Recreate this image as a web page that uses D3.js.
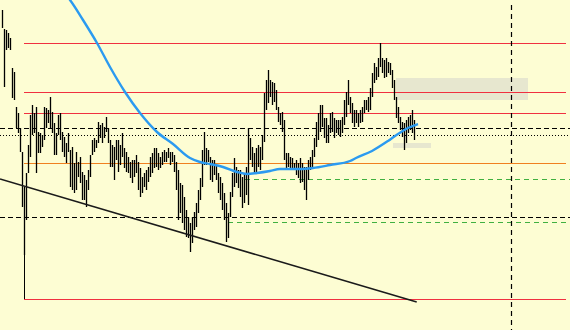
<!DOCTYPE html>
<html><head><meta charset="utf-8">
<script src="https://cdn.jsdelivr.net/npm/d3@7"></script>
<style>html,body{margin:0;padding:0;background:#fdfdd3;overflow:hidden}</style>
</head><body><svg id="c" width="570" height="330"></svg>
<script>
// Bar highs/lows (price points), one per session
const highs = [990,971,970,967,962,932,928,893,887,872,848,813,827,855,885,895,887,893,868,867,
865,893,892,890,903,888,877,867,885,887,868,863,857,867,850,853,837,848,838,843,
828,825,820,830,845,860,862,860,878,875,877,873,883,872,860,855,853,860,860,855,
867,852,848,843,838,840,840,845,838,832,823,827,830,833,843,847,852,852,847,843,
848,850,848,852,848,848,845,838,830,817,815,803,790,783,777,783,788,797,810,822,
850,868,852,850,843,840,840,835,827,823,817,807,797,787,808,827,842,833,830,830,
823,827,833,872,862,853,847,852,855,853,865,907,920,930,920,918,917,910,893,887,
888,880,847,847,843,842,837,840,837,842,837,833,833,840,843,850,862,878,887,895,
895,882,882,875,887,888,882,880,880,880,883,900,908,920,903,897,890,890,887,890,
893,900,900,903,912,927,937,933,942,957,942,940,942,938,937,930,920,903,893,883,
878,877,880,883,885,890,880];
const lows = [972,913,950,952,950,902,900,872,867,848,793,745,780,827,843,865,867,827,847,847,
853,860,872,877,872,867,845,845,865,860,848,843,837,848,813,810,807,810,823,817,
800,800,793,810,823,845,848,852,857,862,857,862,868,857,833,833,820,840,828,835,
843,832,828,827,822,817,823,827,810,803,807,813,810,818,823,827,832,833,830,832,
835,838,838,842,835,838,828,810,780,787,777,770,763,762,748,757,770,773,787,800,
813,835,835,838,820,818,825,820,807,800,790,780,758,762,783,803,813,817,812,803,
792,797,805,795,840,833,827,828,833,830,840,858,890,897,903,895,898,890,878,875,
868,840,830,833,830,830,830,825,822,817,818,810,800,820,830,833,843,853,860,868,
873,862,857,857,867,868,862,867,865,863,867,875,883,895,887,877,873,877,873,877,
878,887,890,888,890,903,917,920,923,933,927,922,923,927,925,912,900,882,877,870,
863,850,857,867,870,867,860];

// Moving average (index, value)
const maIdx = [32,34,40.5,47.5,54,61.5,69,77.5,85.5,94,99,104,110.5,117.5,122.5,127.5,134,139,149,155.5,164,174,177,185,193,198,203,208];
const maVal = [1005,1000,980,957,933,908,887,868,856,842,838,836,833,828,826,827,829,831,831,832,835,839,842,849,859,866,872,876];

// Levels and drawings
const redLevels = [957, 908, 887, 701];
const orangeLevel = 837;
const dashedLevels = [872, 783];
const dottedLevel = 865.5;
const greenLevels = [{v:821, from:121.5},{v:778, from:113}];
const trend = {i0:-1, v0:821, i1:207.35, v1:698};
const vLineIdx = 254.25;
const marker = {i:11, top:800, bottom:701};
const zones = [{i0:197, i1:263, top:922, bottom:900},{i0:195.5, i1:214.5, top:857, bottom:852}];
const levelStart = 11, levelEnd = 282;

const W = 570, H = 330;
const x = d3.scaleLinear().domain([-1, 284]).range([0, W]);
const y = d3.scaleLinear().domain([1000, 670]).range([0, H]);
const svg = d3.select('#c');
svg.append('rect').attr('width',W).attr('height',H).attr('fill','#fdfdd3');

svg.selectAll('.zone').data(zones).enter().append('rect')
  .attr('x',d=>x(d.i0)).attr('width',d=>x(d.i1)-x(d.i0))
  .attr('y',d=>y(d.top)).attr('height',d=>y(d.bottom)-y(d.top))
  .attr('fill','#e7e7cf');

const hline = (v, i0, i1, color, dash, w) => svg.append('line')
  .attr('x1',x(i0)).attr('x2',x(i1)).attr('y1',Math.round(y(v))+0.5).attr('y2',Math.round(y(v))+0.5)
  .attr('stroke',color).attr('stroke-width',w||1).attr('stroke-dasharray',dash||null)
  .attr('shape-rendering','crispEdges');

redLevels.forEach(v=>hline(v, levelStart, levelEnd, '#f03040', null, 1));
hline(orangeLevel, levelStart, levelEnd, '#f08020', null, 1);
dashedLevels.forEach(v=>hline(v, -1, 284, '#000', '5,3', 1));
hline(dottedLevel, -1, 284, '#000', '1,2', 1);
greenLevels.forEach(g=>hline(g.v, g.from, 284, '#40b040', '5,4', 1));

svg.append('line').attr('x1',Math.round(x(vLineIdx))+0.5).attr('x2',Math.round(x(vLineIdx))+0.5)
  .attr('y1',5).attr('y2',H).attr('stroke','#000').attr('stroke-width',1.2).attr('stroke-dasharray','5,4');

svg.append('line').attr('x1',x(marker.i)+0.5).attr('x2',x(marker.i)+0.5)
  .attr('y1',y(marker.top)).attr('y2',y(marker.bottom)).attr('stroke','#000').attr('stroke-width',1)
  .attr('shape-rendering','crispEdges');

svg.append('g').selectAll('line').data(highs).enter().append('line')
  .attr('x1',(d,i)=>x(i)+0.5).attr('x2',(d,i)=>x(i)+0.5)
  .attr('y1',d=>y(d)).attr('y2',(d,i)=>y(lows[i]))
  .attr('stroke','#000').attr('stroke-width',1.3);

svg.append('line').attr('x1',x(trend.i0)).attr('y1',y(trend.v0)).attr('x2',x(trend.i1)).attr('y2',y(trend.v1))
  .attr('stroke','#1a1a1a').attr('stroke-width',1.6);

const ma = maIdx.map((d,i)=>[d, maVal[i]]);
svg.append('path').datum(ma)
  .attr('d', d3.line().x(d=>x(d[0])).y(d=>y(d[1])).curve(d3.curveMonotoneX))
  .attr('fill','none').attr('stroke','#2b9af0').attr('stroke-width',2.4);
</script></body></html>
